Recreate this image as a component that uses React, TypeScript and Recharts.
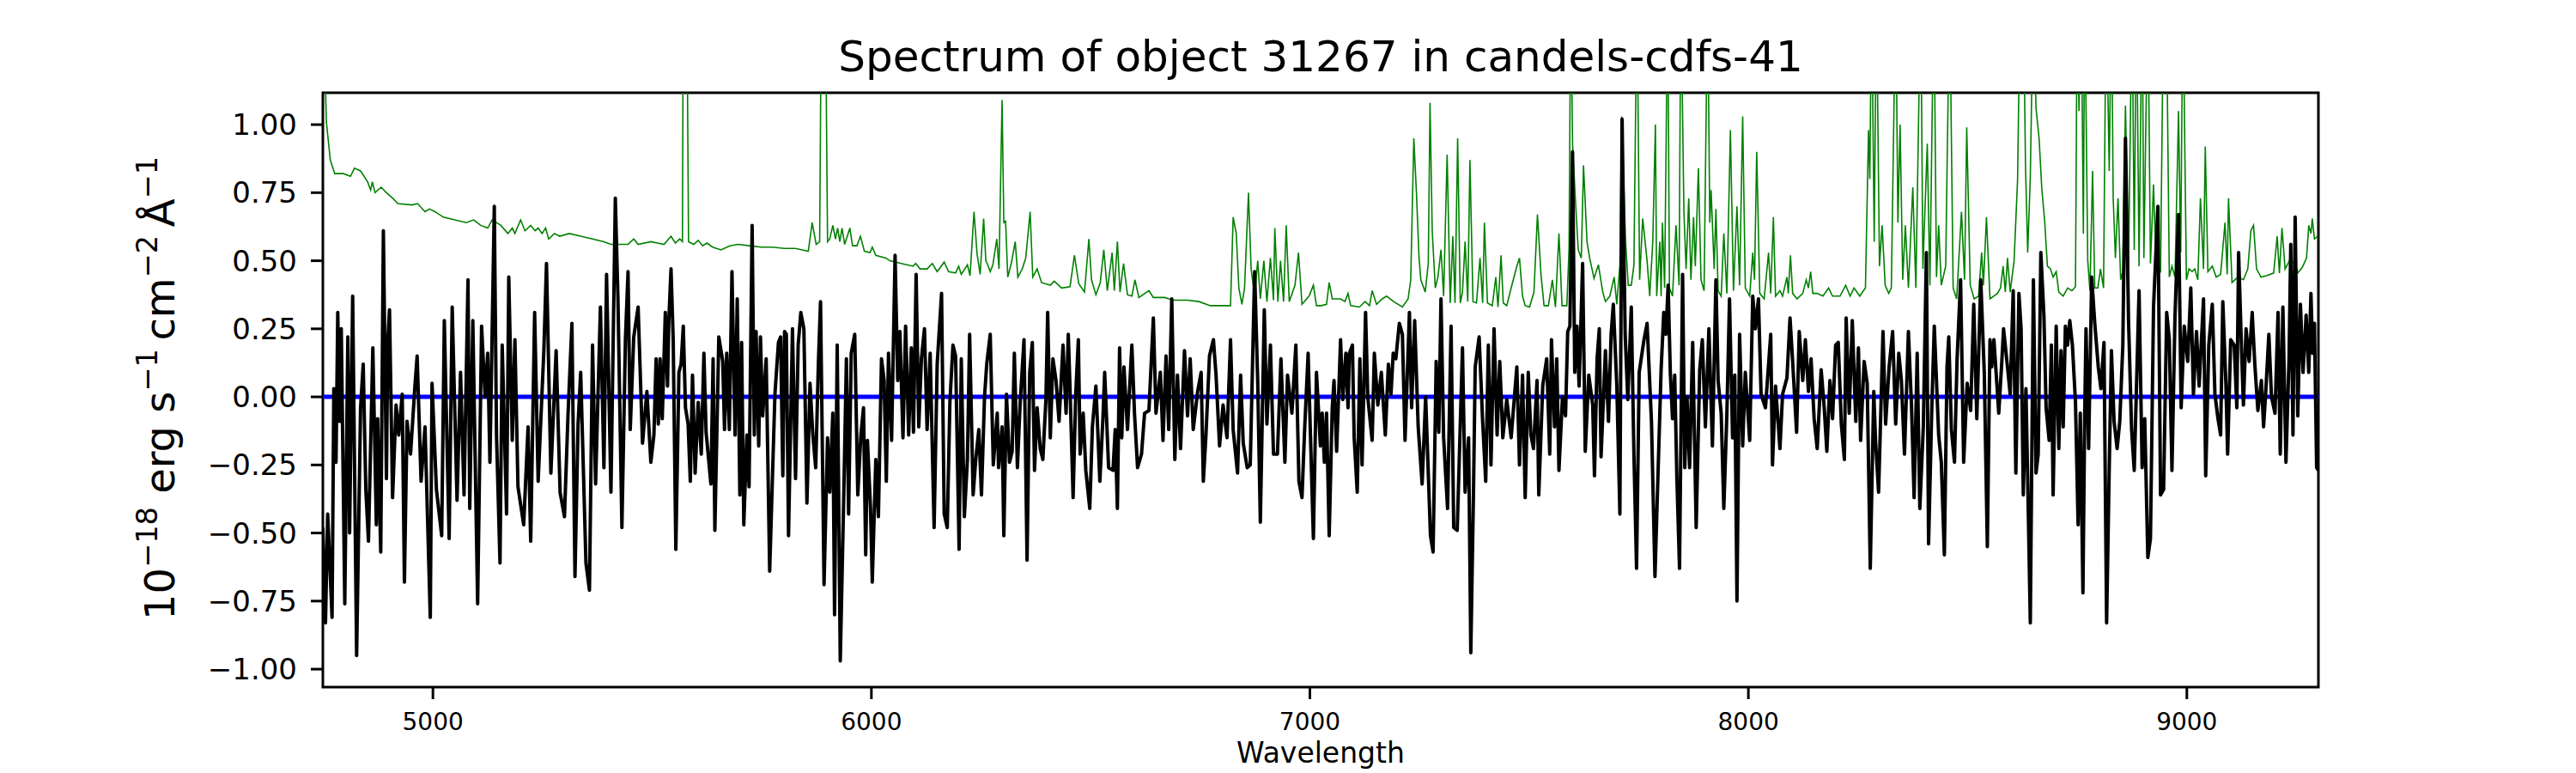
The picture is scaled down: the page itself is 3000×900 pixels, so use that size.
import { LineChart, Line, XAxis, YAxis, ReferenceArea } from 'recharts'

// [wavelength (Å), flux]
const FLUX: [number, number][] = [
  [4749, -0.48], [4755, -0.83], [4760, -0.43], [4770, -0.81], [4774, 0.03], [4779, -0.24], [4783, 0.31], [4787, -0.09],
  [4791, 0.25], [4799, -0.76], [4806, 0.22], [4810, -0.5], [4817, 0.37], [4826, -0.95], [4835, -0.04], [4841, 0.12],
  [4847, -0.34], [4853, -0.53], [4863, 0.18], [4871, -0.47], [4874, -0.08], [4881, -0.57], [4887, 0.61], [4894, -0.3],
  [4897, 0.2], [4901, 0.32], [4908, -0.37], [4916, -0.03], [4922, -0.14], [4930, 0.01], [4935, -0.68], [4941, -0.09],
  [4949, -0.21], [4959, 0.04], [4964, 0.15], [4973, -0.31], [4982, -0.11], [4994, -0.81], [4998, 0.05], [5008, -0.34],
  [5020, -0.51], [5026, 0.28], [5037, -0.52], [5044, 0.33], [5055, -0.38], [5063, 0.09], [5071, -0.36], [5080, 0.43],
  [5084, -0.41], [5091, 0.28], [5102, -0.76], [5111, 0.26], [5119, 0.0], [5125, 0.16], [5130, -0.24], [5140, 0.7],
  [5145, -0.14], [5153, -0.61], [5158, 0.19], [5168, -0.43], [5173, 0.44], [5181, -0.16], [5187, 0.21], [5194, -0.33],
  [5207, -0.47], [5217, -0.11], [5223, -0.53], [5232, 0.31], [5240, -0.31], [5253, 0.17], [5259, 0.49], [5269, -0.28],
  [5281, 0.17], [5290, -0.35], [5300, -0.44], [5308, -0.07], [5317, 0.27], [5324, -0.66], [5331, -0.1], [5337, 0.09],
  [5349, -0.61], [5357, -0.71], [5364, 0.19], [5371, -0.32], [5382, 0.33], [5390, -0.26], [5396, 0.45], [5406, -0.35],
  [5416, 0.73], [5422, 0.36], [5431, -0.48], [5439, 0.21], [5445, 0.46], [5450, -0.12], [5458, 0.22], [5468, 0.33],
  [5478, -0.17], [5488, 0.02], [5497, -0.24],
  [5504, -0.14], [5509, 0.14], [5514, -0.1], [5518, 0.14], [5523, -0.08], [5530, 0.31], [5535, 0.04], [5538, 0.28],
  [5543, 0.47], [5548, 0.21], [5554, -0.56], [5561, 0.09], [5566, 0.12], [5571, 0.26], [5576, -0.04], [5582, -0.1],
  [5587, -0.31], [5592, 0.08], [5598, -0.28], [5605, -0.02], [5612, -0.21], [5618, 0.16], [5623, -0.13], [5634, -0.32],
  [5639, 0.14], [5643, -0.49], [5652, 0.22], [5661, 0.13], [5665, -0.12], [5670, 0.16], [5676, -0.12], [5682, 0.46],
  [5689, -0.14], [5694, 0.36], [5700, -0.36], [5704, 0.2], [5709, -0.47], [5716, -0.14], [5721, -0.33], [5728, 0.63],
  [5733, -0.14], [5737, 0.24], [5743, -0.18], [5747, 0.22], [5752, -0.07], [5760, 0.14], [5768, -0.64], [5775, -0.26],
  [5780, 0.01], [5788, 0.2], [5793, 0.22], [5798, -0.29], [5802, 0.24], [5806, 0.23], [5811, -0.51], [5820, 0.25],
  [5827, -0.3], [5833, 0.19], [5839, 0.31], [5846, 0.25], [5853, -0.39], [5860, 0.05], [5866, -0.13], [5873, -0.26],
  [5879, 0.12], [5884, 0.35], [5892, -0.69], [5900, -0.15], [5905, -0.35], [5912, -0.06], [5916, -0.8], [5922, 0.19],
  [5929, -0.97], [5937, -0.36], [5943, 0.14], [5948, -0.43], [5954, 0.16], [5962, 0.23], [5969, -0.36], [5976, -0.14],
  [5982, -0.04], [5987, -0.58], [5991, -0.16], [5998, -0.41], [6002, -0.68], [6010, -0.23], [6016, -0.44], [6023, 0.14],
  [6029, 0.06], [6034, -0.31], [6039, 0.16], [6046, -0.16], [6054, 0.52], [6060, 0.06], [6065, 0.24], [6072, -0.15],
  [6078, 0.26], [6085, -0.14], [6091, 0.18], [6096, -0.13], [6102, 0.45], [6108, -0.11], [6114, 0.14], [6121, 0.25],
  [6127, -0.12], [6134, 0.16], [6143, -0.48], [6150, 0.12], [6160, 0.38], [6166, -0.43], [6173, -0.48], [6179, -0.02],
  [6186, 0.19], [6192, 0.15], [6200, -0.56], [6205, 0.14], [6212, -0.44], [6219, -0.23], [6224, 0.23], [6232, -0.36],
  [6238, -0.23], [6245, -0.12], [6251, -0.36], [6258, 0.0], [6263, 0.12],
  [6271, 0.23], [6278, -0.25], [6287, -0.06], [6290, -0.26], [6298, -0.11], [6302, -0.51], [6308, 0.01], [6315, -0.24],
  [6321, -0.2], [6326, 0.16], [6333, -0.26], [6339, -0.03], [6348, 0.21], [6355, -0.6], [6361, 0.09], [6367, 0.2],
  [6372, -0.27], [6378, -0.04], [6385, -0.19], [6391, -0.23], [6398, -0.01], [6402, 0.31], [6408, -0.15], [6414, 0.14],
  [6421, 0.06], [6428, -0.09], [6437, 0.19], [6444, -0.06], [6449, 0.23], [6453, 0.03], [6460, -0.37], [6466, 0.01],
  [6472, 0.21], [6476, -0.21], [6483, -0.06], [6489, -0.27], [6498, -0.41], [6504, -0.11], [6512, 0.04], [6521, -0.31],
  [6528, -0.08], [6532, 0.09], [6541, -0.26], [6551, -0.27], [6556, -0.12], [6561, -0.41], [6566, 0.18], [6571, -0.15],
  [6576, 0.11], [6584, -0.12], [6594, 0.19], [6600, -0.06], [6607, -0.26], [6616, -0.21], [6623, -0.06], [6633, -0.05],
  [6643, 0.29], [6649, -0.06], [6659, 0.09], [6665, -0.16], [6672, 0.15], [6678, -0.12], [6685, 0.36], [6692, -0.23],
  [6698, 0.08], [6705, -0.19], [6714, 0.17], [6721, -0.07], [6727, 0.14], [6734, -0.12], [6744, 0.02], [6752, 0.09],
  [6757, -0.31], [6763, -0.14], [6771, 0.15], [6780, 0.21], [6786, 0.08], [6794, -0.18], [6802, -0.03], [6811, -0.15],
  [6819, 0.21], [6825, -0.12], [6835, -0.28], [6842, 0.08], [6848, -0.17], [6857, -0.26], [6864, -0.25], [6874, 0.46],
  [6881, 0.06], [6887, -0.46], [6896, 0.32], [6902, -0.1], [6910, 0.19], [6917, -0.21], [6926, -0.21], [6934, 0.14],
  [6943, -0.24], [6949, 0.08], [6959, -0.06], [6968, 0.19], [6975, -0.31], [6982, -0.37], [6988, -0.12], [6996, 0.16],
  [7008, -0.52], [7015, 0.09], [7024, -0.18],
  [7028, -0.06], [7033, -0.24], [7038, -0.06], [7044, -0.51], [7051, -0.04], [7055, 0.06], [7061, -0.2], [7070, 0.21],
  [7075, -0.01], [7082, 0.16], [7087, -0.04], [7090, 0.16], [7097, 0.19], [7101, -0.15], [7108, -0.35], [7114, 0.14],
  [7119, -0.25], [7127, 0.31], [7132, 0.0], [7142, -0.16], [7147, 0.16], [7155, -0.03], [7163, 0.09], [7172, -0.14],
  [7179, 0.12], [7185, 0.01], [7190, 0.16], [7196, 0.14], [7204, 0.27], [7211, 0.23], [7217, -0.16], [7227, 0.31],
  [7232, -0.04], [7239, 0.28], [7247, -0.11], [7256, -0.32], [7264, 0.0], [7275, -0.51], [7281, -0.57], [7288, 0.13],
  [7294, -0.13], [7299, 0.36], [7305, -0.15], [7314, -0.41], [7322, 0.26], [7328, -0.48], [7336, -0.49], [7348, 0.18],
  [7354, -0.35], [7362, -0.15], [7367, -0.94], [7373, -0.36], [7377, 0.11], [7386, 0.22], [7394, -0.09], [7401, -0.31],
  [7407, 0.19], [7413, -0.25], [7420, 0.25], [7427, -0.14], [7433, 0.13], [7440, -0.15], [7449, -0.01], [7459, -0.15],
  [7472, 0.11], [7478, -0.25], [7485, 0.08], [7491, -0.37], [7498, 0.09], [7504, -0.14], [7510, -0.19], [7518, 0.06],
  [7522, -0.36], [7531, 0.04], [7540, 0.14], [7547, -0.21], [7551, 0.21], [7558, -0.11], [7563, 0.14], [7568, -0.27],
  [7576, 0.0], [7583, -0.07], [7588, 0.24], [7593, 0.26], [7599, 0.9], [7604, 0.09], [7609, 0.26], [7614, 0.04],
  [7622, 0.49], [7628, -0.2], [7636, 0.08], [7645, -0.03], [7649, -0.29], [7655, 0.14], [7660, 0.25], [7664, -0.22],
  [7674, 0.17], [7681, -0.09], [7687, 0.23], [7692, 0.34], [7700, 0.04], [7707, -0.43], [7712, 1.02], [7719, 0.23],
  [7725, -0.01], [7733, 0.33], [7739, -0.21], [7745, -0.63], [7751, 0.09], [7762, 0.21], [7769, 0.27], [7779, -0.09],
  [7787, -0.66],
  [7796, -0.17], [7801, 0.1], [7807, 0.31], [7812, 0.23], [7817, 0.41], [7822, 0.09], [7827, -0.08], [7832, 0.08],
  [7837, -0.3], [7843, -0.63], [7850, 0.45], [7855, -0.26], [7860, 0.0], [7866, -0.26], [7873, 0.2], [7881, -0.48],
  [7889, 0.1], [7895, 0.21], [7902, -0.11], [7910, 0.25], [7918, -0.18], [7926, 0.43], [7931, 0.06], [7938, -0.06],
  [7944, -0.41], [7951, -0.06], [7957, 0.36], [7964, -0.15], [7969, 0.08], [7974, -0.75], [7980, 0.23], [7987, -0.18],
  [7993, 0.09], [8003, -0.16], [8010, 0.37], [8016, 0.25], [8023, 0.36], [8029, 0.01], [8039, -0.04], [8051, 0.23],
  [8055, -0.25], [8062, 0.04], [8072, -0.19], [8078, 0.01], [8088, 0.07], [8095, 0.29], [8101, 0.13], [8110, -0.13],
  [8116, 0.24], [8124, 0.06], [8130, 0.21], [8137, 0.02], [8143, 0.14], [8150, -0.08], [8157, -0.19], [8166, 0.1],
  [8173, -0.04], [8179, -0.2], [8186, 0.06], [8192, -0.08], [8199, 0.19], [8205, 0.2], [8212, -0.1], [8219, -0.23],
  [8223, 0.29], [8230, -0.06], [8237, 0.28], [8245, -0.09], [8251, 0.18], [8256, -0.16], [8264, 0.13], [8271, 0.05],
  [8278, -0.63], [8286, 0.02], [8290, -0.16], [8297, -0.35], [8307, 0.24], [8313, -0.1], [8321, 0.11], [8329, 0.24],
  [8336, -0.1], [8343, 0.16], [8349, 0.06], [8356, -0.21], [8365, 0.24], [8372, -0.03], [8378, -0.37], [8385, 0.16],
  [8391, -0.41], [8399, -0.11], [8406, 0.53], [8411, -0.54], [8418, -0.06], [8424, 0.26], [8434, -0.14], [8440, -0.24],
  [8447, -0.58], [8453, 0.11], [8457, 0.22], [8463, -0.12], [8470, -0.24], [8476, 0.14], [8484, 0.43], [8491, -0.24],
  [8499, 0.05], [8507, -0.05], [8514, 0.34], [8521, -0.08], [8530, 0.43], [8538, 0.09], [8545, -0.55], [8551, 0.21],
  [8555, 0.11], [8560, 0.21], [8567, 0.04], [8571, -0.06], [8578, 0.13], [8582, 0.25], [8591, 0.11], [8597, 0.01],
  [8604, 0.39], [8610, -0.28], [8617, 0.38], [8622, 0.25], [8627, -0.36], [8633, 0.03], [8637, -0.3], [8643, -0.83],
  [8650, 0.43], [8656, -0.28], [8661, -0.21], [8667, 0.53], [8674, 0.3], [8679, -0.04], [8686, -0.16], [8691, 0.19],
  [8695, -0.36], [8702, 0.26], [8708, -0.19], [8713, 0.17], [8718, -0.11], [8723, 0.26], [8728, 0.19], [8733, 0.28],
  [8739, 0.19], [8746, -0.02], [8752, -0.47], [8757, -0.06], [8763, -0.72], [8767, -0.07], [8770, 0.25], [8776, -0.19],
  [8783, 0.44], [8790, 0.27], [8798, 0.11], [8804, 0.03], [8811, 0.2], [8817, -0.83], [8823, -0.26], [8828, 0.17],
  [8834, -0.09], [8841, -0.19], [8847, -0.09], [8854, 0.19], [8860, 0.95], [8867, 0.28], [8874, -0.12], [8880, -0.27],
  [8885, 0.03], [8891, 0.39], [8898, -0.26], [8904, -0.08], [8911, -0.59], [8917, -0.52], [8924, 0.33], [8934, 0.7],
  [8940, -0.36], [8947, -0.34], [8954, 0.31], [8960, 0.21], [8966, -0.27], [8973, 0.3], [8981, 0.67], [8987, -0.04],
  [8994, 0.26], [9002, 0.13], [9009, 0.4], [9015, 0.01], [9022, 0.24], [9028, 0.04], [9038, 0.36], [9043, -0.29],
  [9050, 0.19], [9058, 0.34], [9064, 0.01], [9071, -0.08], [9077, -0.14], [9082, 0.35], [9089, 0.05], [9093, -0.21],
  [9100, 0.21], [9108, 0.19], [9114, -0.04], [9118, 0.53], [9125, 0.16], [9129, -0.03], [9135, 0.25], [9142, 0.13],
  [9149, 0.31], [9155, 0.12], [9162, -0.05], [9170, 0.06], [9175, -0.11], [9180, 0.02], [9187, 0.23], [9193, 0.0],
  [9201, -0.06], [9208, 0.31], [9213, -0.21], [9219, 0.33], [9226, -0.24], [9233, 0.14], [9237, 0.56], [9242, -0.14],
  [9247, 0.66], [9253, -0.07], [9259, 0.34], [9265, 0.09], [9272, 0.3], [9278, 0.09], [9283, 0.38], [9287, 0.16],
  [9291, 0.27], [9296, -0.26], [9300, -0.27],
]

// [wavelength (Å), error] — sky lines run off the top of the axes
const ERROR: [number, number][] = [
  [4749, 1.5], [4757, 1.01], [4766, 0.87], [4776, 0.82], [4796, 0.82], [4812, 0.81], [4821, 0.84], [4835, 0.83],
  [4851, 0.79], [4858, 0.76], [4862, 0.79], [4868, 0.75], [4882, 0.77], [4894, 0.75], [4908, 0.73], [4920, 0.71],
  [4952, 0.705], [4965, 0.71], [4982, 0.68], [4992, 0.69], [5005, 0.68], [5024, 0.66], [5050, 0.65], [5076, 0.64],
  [5093, 0.65], [5109, 0.63], [5125, 0.62], [5135, 0.65], [5155, 0.63], [5171, 0.6], [5181, 0.62], [5187, 0.6],
  [5200, 0.65], [5210, 0.61], [5223, 0.63], [5233, 0.61], [5240, 0.62], [5249, 0.6], [5257, 0.62], [5264, 0.58],
  [5277, 0.6], [5289, 0.59], [5311, 0.6], [5337, 0.59], [5364, 0.58], [5390, 0.57], [5406, 0.56], [5429, 0.56],
  [5445, 0.56], [5458, 0.58], [5468, 0.56], [5497, 0.57],
  [5527, 0.56], [5543, 0.59], [5553, 0.565], [5563, 0.58], [5569, 0.57], [5571, 1.5], [5579, 1.5], [5583, 0.57],
  [5595, 0.56], [5605, 0.575], [5615, 0.555], [5625, 0.565], [5638, 0.55], [5657, 0.54], [5677, 0.555], [5696, 0.56],
  [5722, 0.555], [5749, 0.55], [5775, 0.55], [5801, 0.545], [5827, 0.545], [5856, 0.535], [5865, 0.64], [5874, 0.56],
  [5882, 0.57], [5886, 1.5], [5895, 1.5], [5900, 0.57], [5905, 0.58], [5912, 0.63], [5918, 0.58], [5923, 0.62],
  [5928, 0.57], [5933, 0.62], [5939, 0.56], [5951, 0.62], [5957, 0.555], [5967, 0.555], [5975, 0.59], [5984, 0.535],
  [5997, 0.53], [6002, 0.55], [6010, 0.52], [6033, 0.51], [6042, 0.5], [6068, 0.49], [6095, 0.48], [6101, 0.49],
  [6111, 0.47], [6127, 0.47], [6139, 0.49], [6150, 0.46], [6166, 0.495], [6176, 0.46], [6192, 0.455], [6199, 0.48],
  [6205, 0.45], [6219, 0.485], [6225, 0.445], [6234, 0.68], [6241, 0.525], [6248, 0.45], [6256, 0.655], [6261, 0.5],
  [6264, 0.49], [6271, 0.46], [6277, 0.485], [6286, 0.58], [6291, 0.47], [6298, 1.09], [6302, 0.64], [6306, 0.645],
  [6311, 0.44], [6319, 0.49], [6328, 0.57], [6334, 0.44], [6344, 0.47], [6352, 0.51], [6362, 0.68], [6368, 0.44],
  [6378, 0.47], [6388, 0.42], [6408, 0.41], [6417, 0.425], [6434, 0.4], [6453, 0.405], [6463, 0.52], [6473, 0.415],
  [6486, 0.385], [6496, 0.58], [6502, 0.43], [6512, 0.375], [6522, 0.42], [6530, 0.54], [6538, 0.39], [6549, 0.53],
  [6554, 0.39], [6561, 0.57], [6567, 0.385], [6575, 0.49], [6584, 0.375], [6594, 0.37], [6601, 0.43], [6610, 0.365],
  [6633, 0.39], [6643, 0.365], [6669, 0.365], [6688, 0.355], [6721, 0.355], [6747, 0.35], [6773, 0.335], [6819, 0.335],
  [6825, 0.66], [6832, 0.6], [6838, 0.4], [6845, 0.34], [6851, 0.4], [6860, 0.75], [6866, 0.47], [6874, 0.37],
  [6881, 0.5], [6887, 0.36], [6895, 0.5], [6902, 0.35], [6910, 0.51], [6917, 0.355], [6920, 0.62], [6927, 0.35],
  [6933, 0.5], [6940, 0.35], [6946, 0.63], [6953, 0.35], [6966, 0.41], [6974, 0.53], [6982, 0.34], [6998, 0.37],
  [7008, 0.41], [7015, 0.335], [7026, 0.335],
  [7038, 0.34], [7044, 0.42], [7051, 0.36], [7061, 0.36], [7070, 0.36], [7080, 0.35], [7087, 0.38], [7093, 0.335],
  [7113, 0.33], [7126, 0.35], [7136, 0.335], [7142, 0.39], [7152, 0.34], [7165, 0.36], [7175, 0.37], [7191, 0.35],
  [7211, 0.33], [7224, 0.36], [7230, 0.43], [7237, 0.95], [7243, 0.75], [7249, 0.51], [7253, 0.43], [7263, 0.385],
  [7270, 0.49], [7274, 1.08], [7279, 0.61], [7286, 0.4], [7292, 0.44], [7299, 0.54], [7305, 0.37], [7313, 0.89],
  [7320, 0.345], [7326, 0.59], [7331, 0.345], [7337, 0.95], [7343, 0.345], [7348, 0.385], [7354, 0.57], [7360, 0.35],
  [7365, 0.87], [7372, 0.35], [7380, 0.345], [7388, 0.51], [7394, 0.345], [7398, 0.64], [7405, 0.345], [7416, 0.335],
  [7424, 0.44], [7429, 0.33], [7436, 0.52], [7441, 0.345], [7449, 0.335], [7459, 0.4], [7472, 0.48], [7478, 0.51],
  [7485, 0.37], [7491, 0.335], [7501, 0.33], [7511, 0.385], [7519, 0.67], [7527, 0.45], [7534, 0.335], [7544, 0.335],
  [7553, 0.43], [7560, 0.33], [7568, 0.6], [7575, 0.335], [7586, 0.335], [7591, 0.54], [7595, 1.5], [7599, 0.93],
  [7606, 0.71], [7612, 0.54], [7619, 0.51], [7624, 0.85], [7632, 0.57], [7638, 0.51], [7648, 0.435], [7658, 0.485],
  [7668, 0.385], [7674, 0.35], [7684, 0.37], [7694, 0.44], [7700, 0.34], [7707, 0.485], [7711, 1.03], [7720, 0.57],
  [7726, 0.41], [7733, 0.41], [7739, 0.485], [7746, 1.5], [7752, 0.43], [7759, 0.655], [7769, 0.5], [7775, 0.37],
  [7782, 0.57], [7788, 1.0],
  [7791, 0.37], [7798, 0.57], [7801, 0.37], [7804, 0.64], [7809, 0.4], [7816, 1.5], [7820, 0.4], [7827, 0.37],
  [7835, 0.63], [7842, 0.41], [7846, 1.5], [7853, 0.68], [7858, 0.47], [7864, 0.73], [7869, 0.43], [7875, 0.66],
  [7879, 0.48], [7886, 0.84], [7892, 0.43], [7899, 0.39], [7907, 1.5], [7912, 0.64], [7915, 0.76], [7922, 0.47],
  [7926, 0.69], [7931, 0.39], [7938, 0.37], [7944, 0.6], [7951, 0.38], [7959, 0.98], [7966, 0.39], [7974, 0.7],
  [7980, 0.41], [7987, 1.03], [7993, 0.4], [8003, 0.37], [8010, 0.53], [8014, 0.43], [8019, 0.9], [8026, 0.38],
  [8036, 0.36], [8046, 0.53], [8051, 0.38], [8057, 0.66], [8062, 0.37], [8072, 0.39], [8078, 0.37], [8088, 0.44],
  [8091, 0.38], [8096, 0.52], [8101, 0.38], [8111, 0.36], [8124, 0.38], [8132, 0.43], [8137, 0.4], [8142, 0.46],
  [8147, 0.38], [8157, 0.38], [8170, 0.37], [8183, 0.4], [8192, 0.37], [8209, 0.37], [8222, 0.41], [8232, 0.37],
  [8241, 0.4], [8254, 0.37], [8267, 0.4], [8274, 0.98], [8277, 0.8], [8281, 1.5], [8287, 0.57], [8292, 1.5],
  [8299, 0.48], [8305, 0.63], [8312, 0.41], [8320, 0.38], [8326, 0.4], [8336, 1.5], [8341, 0.64], [8346, 1.0],
  [8352, 0.43], [8358, 0.63], [8365, 0.4], [8375, 0.77], [8382, 0.4], [8393, 1.5], [8398, 0.47], [8408, 0.93],
  [8414, 0.41], [8423, 1.5], [8429, 0.44], [8434, 0.63], [8440, 0.41], [8450, 0.48], [8459, 1.5], [8467, 0.4],
  [8475, 0.36], [8486, 0.68], [8493, 0.43], [8498, 0.99], [8506, 0.41], [8515, 0.36], [8525, 0.37], [8532, 0.53],
  [8536, 0.41], [8543, 0.66], [8551, 0.36],
  [8568, 0.38], [8575, 0.4], [8581, 0.48], [8586, 0.385], [8591, 0.51], [8597, 0.385], [8606, 0.5], [8614, 0.8],
  [8620, 1.5], [8627, 1.5], [8632, 0.85], [8637, 0.53], [8643, 0.81], [8650, 1.5], [8656, 1.06], [8663, 0.95],
  [8669, 0.77], [8676, 0.64], [8682, 0.48], [8689, 0.47], [8695, 0.44], [8702, 0.46], [8708, 0.385], [8718, 0.37],
  [8728, 0.4], [8738, 0.39], [8746, 0.405], [8750, 1.5], [8754, 1.05], [8759, 1.5], [8764, 0.6], [8767, 1.5],
  [8774, 0.5], [8779, 0.39], [8785, 0.83], [8790, 0.4], [8797, 0.4], [8803, 0.47], [8810, 0.4], [8816, 1.5],
  [8823, 0.83], [8828, 1.5], [8832, 0.73], [8837, 0.51], [8843, 0.73], [8849, 0.43], [8854, 0.46], [8860, 1.07],
  [8867, 0.47], [8875, 1.5], [8880, 0.54], [8885, 1.5], [8891, 0.48], [8898, 1.5], [8902, 0.51], [8911, 1.5],
  [8917, 0.49], [8924, 0.78], [8930, 0.47], [8940, 0.46], [8947, 1.5], [8953, 1.5], [8960, 0.44], [8966, 0.48],
  [8973, 0.44], [8981, 1.05], [8986, 0.53], [8991, 1.5], [8999, 0.43], [9005, 0.47], [9012, 0.46], [9018, 0.47],
  [9025, 0.43], [9031, 0.73], [9038, 0.47], [9042, 0.92], [9048, 0.46], [9058, 0.48], [9067, 0.44], [9077, 0.45],
  [9087, 0.64], [9092, 0.45], [9095, 0.73], [9103, 0.42], [9116, 0.44], [9129, 0.43], [9139, 0.47], [9146, 0.61],
  [9152, 0.63], [9159, 0.47], [9169, 0.44], [9182, 0.445], [9198, 0.455], [9206, 0.59], [9211, 0.455], [9217, 0.62],
  [9224, 0.47], [9234, 0.5], [9247, 0.49], [9253, 0.455], [9263, 0.475], [9273, 0.51], [9278, 0.63], [9283, 0.6],
  [9286, 0.655], [9291, 0.58], [9298, 0.59],
]

const ZERO_LINE: [number, number][] = [[4749, 0], [9300, 0]]

const X_DOMAIN: [number, number] = [4749, 9300]
const Y_DOMAIN: [number, number] = [-1.066, 1.117]
const X_TICKS = [5000, 6000, 7000, 8000, 9000]
const Y_TICKS = [-1, -0.75, -0.5, -0.25, 0, 0.25, 0.5, 0.75, 1]

const TITLE = 'Spectrum of object 31267 in candels-cdfs-41'
const X_LABEL = 'Wavelength'

const FONT = '"DejaVu Sans", sans-serif'

const toRows = (pairs: [number, number][]) => pairs.map(([w, f]) => ({ w, f }))

const fmtY = (v: number) => (v < 0 ? '\u2212' : '') + Math.abs(v).toFixed(2)

const sup = { fontSize: '0.7em', verticalAlign: '0.6em', lineHeight: 0 }

export default function App() {
  const flux = toRows(FLUX)
  const error = toRows(ERROR)
  const zero = toRows(ZERO_LINE)

  return (
    <div style={{ position: 'absolute', left: 0, top: 0, width: 3000, height: 900, background: '#fff', fontFamily: FONT }}>
      <LineChart width={3000} height={900} margin={{ top: 108, right: 300, bottom: 40, left: 276 }}>
        <XAxis
          dataKey="w"
          type="number"
          domain={X_DOMAIN}
          allowDataOverflow
          ticks={X_TICKS}
          axisLine={false}
          tickLine={{ stroke: '#000', strokeWidth: 3 }}
          tickSize={14}
          tickMargin={16}
          height={60}
          tick={{ fill: '#000', fontSize: 28, fontFamily: FONT }}
        />
        <YAxis
          dataKey="f"
          type="number"
          domain={Y_DOMAIN}
          allowDataOverflow
          ticks={Y_TICKS}
          tickFormatter={fmtY}
          axisLine={false}
          tickLine={{ stroke: '#000', strokeWidth: 3 }}
          tickSize={14}
          tickMargin={16}
          width={100}
          tick={{ fill: '#000', fontSize: 34, fontFamily: FONT }}
        />
        <Line data={error} dataKey="f" stroke="#008000" strokeWidth={1.6} dot={false} isAnimationActive={false} />
        <Line data={zero} dataKey="f" stroke="#0000ff" strokeWidth={5} dot={false} isAnimationActive={false} />
        <Line
          data={flux}
          dataKey="f"
          stroke="#000"
          strokeWidth={4}
          strokeLinejoin="round"
          dot={false}
          isAnimationActive={false}
        />
        <ReferenceArea
          x1={X_DOMAIN[0]}
          x2={X_DOMAIN[1]}
          y1={Y_DOMAIN[0]}
          y2={Y_DOMAIN[1]}
          fill="none"
          fillOpacity={0}
          stroke="#000"
          strokeWidth={3}
          ifOverflow="visible"
        />
      </LineChart>
      <div
        style={{
          position: 'absolute',
          left: 1538,
          top: 66,
          transform: 'translate(-50%, -50%)',
          fontSize: 50,
          lineHeight: 1,
          whiteSpace: 'nowrap',
          color: '#000',
        }}
      >
        {TITLE}
      </div>
      <div
        style={{
          position: 'absolute',
          left: 1538,
          top: 876,
          transform: 'translate(-50%, -50%)',
          fontSize: 33,
          lineHeight: 1,
          whiteSpace: 'nowrap',
          color: '#000',
        }}
      >
        {X_LABEL}
      </div>
      <div
        style={{
          position: 'absolute',
          left: 186,
          top: 452,
          transform: 'translate(-50%, -50%) rotate(-90deg)',
          fontSize: 48,
          lineHeight: 1,
          whiteSpace: 'nowrap',
          color: '#000',
        }}
      >
        10<span style={sup}>{'\u221218'}</span> erg s<span style={sup}>{'\u22121'}</span>
        {'\u2009'}cm<span style={sup}>{'\u22122'}</span>
        {'\u2009\u00c5'}
        <span style={sup}>{'\u22121'}</span>
      </div>
    </div>
  )
}
